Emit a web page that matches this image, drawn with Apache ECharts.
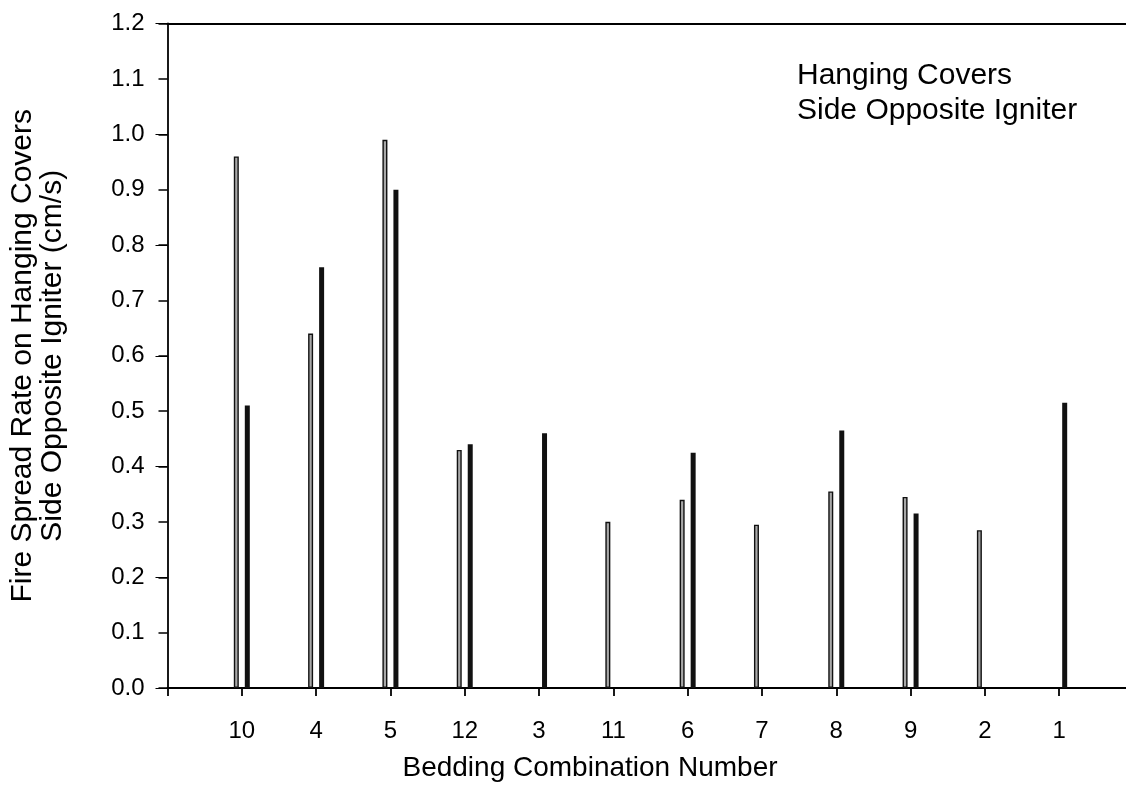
<!DOCTYPE html>
<html>
<head>
<meta charset="utf-8">
<script src="https://cdn.jsdelivr.net/npm/echarts@6/dist/echarts.min.js"></script>
<style>
html,body{margin:0;padding:0;background:#fff;overflow:hidden;}
#chart{width:1126px;height:806px;}
</style>
</head>
<body>
<div id="chart"></div>
<script>
// Bedding combination numbers, in plotted order
var categories = ['10', '4', '5', '12', '3', '11', '6', '7', '8', '9', '2', '1'];
// First (light, outlined) bar of each pair
var seriesLight = [0.96, 0.64, 0.99, 0.43, null, 0.30, 0.34, 0.295, 0.355, 0.345, 0.285, null];
// Second (solid black) bar of each pair
var seriesDark = [0.51, 0.76, 0.90, 0.44, 0.46, null, 0.425, null, 0.465, 0.315, null, 0.515];
var yTicks = [0, 1.2, 0.1];
var yTitle = 'Fire Spread Rate on Hanging Covers\nSide Opposite Igniter (cm/s)';
var xTitle = 'Bedding Combination Number';
var note = 'Hanging Covers\nSide Opposite Igniter';

function pairs(vals) {
  var out = [];
  vals.forEach(function (v, i) { if (v !== null) out.push([i + 1, v]); });
  return out;
}

var FONT = '"Liberation Sans", Arial, sans-serif';
var chart = echarts.init(document.getElementById('chart'), null, {renderer: 'canvas'});
chart.setOption({
  animation: false,
  backgroundColor: '#fff',
  textStyle: {fontFamily: FONT},
  grid: {left: 167.5, width: 966, top: 23.5, bottom: 118, containLabel: false, outerBoundsMode: 'none'},
  xAxis: [{
    type: 'value', min: 0, max: categories.length + 1, interval: 1,
    position: 'bottom',
    splitLine: {show: false},
    axisLine: {show: true, onZero: false, lineStyle: {color: '#000', width: 1.8}},
    axisTick: {show: true, inside: false, length: 8, lineStyle: {color: '#000', width: 1.8}},
    axisLabel: {
      margin: 31, color: '#000', fontSize: 24, fontFamily: FONT,
      formatter: function (v) {
        return (Number.isInteger(v) && v >= 1 && v <= categories.length) ? categories[v - 1] : '';
      }
    }
  }, {
    type: 'value', min: 0, max: categories.length + 1, position: 'top',
    splitLine: {show: false},
    axisLine: {show: true, onZero: false, lineStyle: {color: '#000', width: 2}},
    axisTick: {show: false}, axisLabel: {show: false}
  }],
  yAxis: [{
    type: 'value', min: yTicks[0], max: yTicks[1], interval: yTicks[2],
    position: 'left',
    splitLine: {show: false},
    axisLine: {show: true, onZero: false, lineStyle: {color: '#000', width: 1.8}},
    axisTick: {show: true, length: 9, lineStyle: {color: '#000', width: 1.5}},
    axisLabel: {margin: 23, color: '#000', fontSize: 24, fontFamily: FONT,
      formatter: function (v) { return v.toFixed(1); }},
    name: yTitle, nameLocation: 'middle', nameRotate: 90, nameGap: 100,
    nameTextStyle: {color: '#000', fontSize: 30, lineHeight: 30, fontFamily: FONT}
  }, {
    type: 'value', min: yTicks[0], max: yTicks[1], interval: yTicks[2] * 2,
    position: 'right',
    splitLine: {show: false},
    axisLine: {show: false},
    axisTick: {show: true, inside: true, length: 12, lineStyle: {color: '#000', width: 1}},
    axisLabel: {show: false}
  }],
  series: [{
    type: 'bar', name: 'light', xAxisIndex: 0, yAxisIndex: 0,
    data: pairs(seriesLight), barWidth: 5, barGap: '120%',
    itemStyle: {color: '#a8a8a8', borderColor: '#111', borderWidth: 1.4}
  }, {
    type: 'bar', name: 'dark', xAxisIndex: 0, yAxisIndex: 0,
    data: pairs(seriesDark), barWidth: 5, barGap: '120%',
    itemStyle: {color: '#111', borderColor: '#111', borderWidth: 0}
  }],
  graphic: [{
    type: 'text', left: 797, top: 58,
    style: {text: note, fill: '#000', font: '30px ' + FONT, lineHeight: 35}
  }, {
    type: 'text', x: 590, y: 768,
    style: {text: xTitle, fill: '#000', font: '28px ' + FONT, align: 'center', verticalAlign: 'middle'}
  }]
});
</script>
</body>
</html>
